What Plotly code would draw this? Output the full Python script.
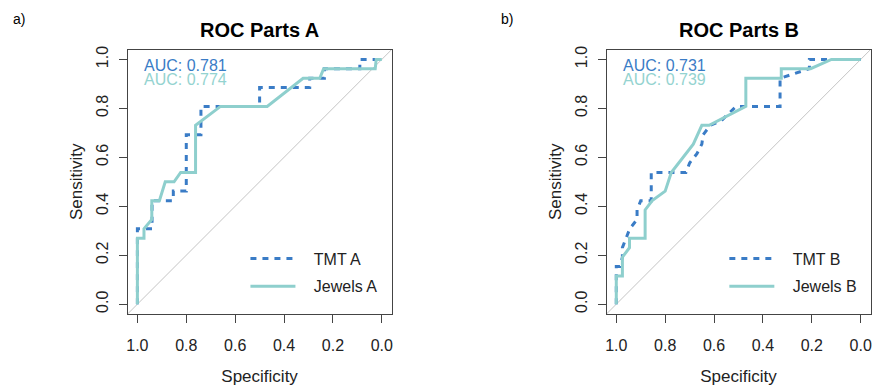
import plotly.graph_objects as go

# ---------------- data ----------------
tmt_a_spec = [1.0, 1.0, 0.94, 0.94, 0.853, 0.853, 0.80, 0.80, 0.74, 0.74, 0.50, 0.50, 0.295, 0.295, 0.235, 0.235, 0.09, 0.09, 0.0]
tmt_a_sens = [0.0, 0.308, 0.308, 0.423, 0.423, 0.462, 0.462, 0.692, 0.692, 0.808, 0.808, 0.885, 0.885, 0.923, 0.923, 0.962, 0.962, 1.0, 1.0]

jew_a_spec = [1.0, 1.0, 0.973, 0.973, 0.941, 0.941, 0.910, 0.886, 0.850, 0.823, 0.762, 0.762, 0.660, 0.469, 0.322, 0.254, 0.238, 0.027, 0.023, 0.0]
jew_a_sens = [0.0, 0.269, 0.269, 0.308, 0.346, 0.423, 0.423, 0.500, 0.500, 0.538, 0.538, 0.731, 0.808, 0.808, 0.923, 0.923, 0.962, 0.962, 1.0, 1.0]

tmt_b_spec = [1.0, 1.0, 0.985, 0.975, 0.975, 0.96, 0.945, 0.915, 0.915, 0.90, 0.857, 0.857, 0.715, 0.70, 0.67, 0.65, 0.645, 0.615, 0.57, 0.51, 0.33, 0.33, 0.27, 0.21, 0.21, 0.0]
tmt_b_sens = [0.0, 0.154, 0.154, 0.192, 0.231, 0.269, 0.308, 0.346, 0.385, 0.423, 0.423, 0.538, 0.538, 0.577, 0.615, 0.654, 0.692, 0.731, 0.75, 0.808, 0.808, 0.923, 0.942, 0.962, 1.0, 1.0]

jew_b_spec = [1.0, 1.0, 0.975, 0.975, 0.946, 0.946, 0.882, 0.882, 0.853, 0.80, 0.775, 0.685, 0.65, 0.62, 0.47, 0.47, 0.325, 0.325, 0.205, 0.12, 0.0]
jew_b_sens = [0.0, 0.115, 0.115, 0.192, 0.231, 0.269, 0.269, 0.385, 0.423, 0.462, 0.538, 0.654, 0.731, 0.731, 0.808, 0.923, 0.923, 0.962, 0.962, 1.0, 1.0]

panel_titles = ["ROC Parts A", "ROC Parts B"]
panel_tags = ["a)", "b)"]
tmt_names = ["TMT A", "TMT B"]
jew_names = ["Jewels A", "Jewels B"]
auc_tmt = ["AUC: 0.781", "AUC: 0.731"]
auc_jew = ["AUC: 0.774", "AUC: 0.739"]
tick_vals = [1.0, 0.8, 0.6, 0.4, 0.2, 0.0]
tick_text = ["1.0", "0.8", "0.6", "0.4", "0.2", "0.0"]

# ---------------- style ----------------
W, H = 874, 389
FONT = "Liberation Sans, Arial, Helvetica, sans-serif"
C_TMT = "#3a7cc6"
C_JEW = "#8ecfcd"
C_AUC_JEW = "#94d3d0"
AX = "#444444"
TXT = "#222222"
LO, HI = -0.04, 1.04

# panel plot boxes in pixels
boxes_x = [(126.9, 391.5), (606.9, 871.5)]
box_y = (46.1, 313.2)

fig = go.Figure()

series = [
    (tmt_a_spec, tmt_a_sens, jew_a_spec, jew_a_sens),
    (tmt_b_spec, tmt_b_sens, jew_b_spec, jew_b_sens),
]

NB = "\u00a0\u00a0\u00a0"
for i, (ts, tn, js, jn) in enumerate(series):
    xa = "x" if i == 0 else "x2"
    ya = "y" if i == 0 else "y2"
    lg = "legend" if i == 0 else "legend2"
    fig.add_trace(go.Scatter(x=ts, y=tn, mode="lines", xaxis=xa, yaxis=ya,
                             name=NB + tmt_names[i], legend=lg, legendgroup="tmt%d" % i,
                             line=dict(color=C_TMT, width=3, dash="6px,6px")))
    fig.add_trace(go.Scatter(x=js, y=jn, mode="lines", xaxis=xa, yaxis=ya,
                             name=NB + jew_names[i], legend=lg, legendgroup="jew%d" % i,
                             line=dict(color=C_JEW, width=3)))
    # reference diagonal across the whole plotting region
    fig.add_shape(type="line", xref=xa, yref=ya, x0=HI, y0=LO, x1=LO, y1=HI,
                  line=dict(color="#c4c4c4", width=1), layer="below")

    fig.add_annotation(xref=xa, yref=ya, x=0.982, y=0.977, text=auc_tmt[i],
                       showarrow=False, xanchor="left", yanchor="middle",
                       font=dict(family=FONT, size=16, color=C_TMT))
    fig.add_annotation(xref=xa, yref=ya, x=0.982, y=0.916, text=auc_jew[i],
                       showarrow=False, xanchor="left", yanchor="middle",
                       font=dict(family=FONT, size=16, color=C_AUC_JEW))

    x0, x1 = boxes_x[i]
    fig.add_annotation(xref="paper", yref="paper", x=(x0 + x1) / 2 / W, y=1 - 26 / H,
                       text="<b>" + panel_titles[i] + "</b>", showarrow=False,
                       xanchor="center", yanchor="middle",
                       font=dict(family=FONT, size=20, color="#000000"))
    tag_x = [10, 499][i]
    fig.add_annotation(xref="paper", yref="paper", x=tag_x / W, y=1 - 15 / H,
                       text=panel_tags[i], showarrow=False, xanchor="left", yanchor="middle",
                       font=dict(family=FONT, size=14, color="#000000"))

axis_common = dict(
    showline=True, mirror=True, linecolor=AX, linewidth=1,
    ticks="outside", ticklen=8, tickcolor=AX, tickwidth=1,
    tickvals=tick_vals, ticktext=tick_text, showgrid=False, zeroline=False,
    tickfont=dict(family=FONT, size=16, color=TXT),
)

yd = [1 - box_y[1] / H, 1 - box_y[0] / H]
layout = dict(
    width=W, height=H, margin=dict(l=0, r=0, t=0, b=0),
    paper_bgcolor="white", plot_bgcolor="white",
    font=dict(family=FONT, size=16, color=TXT),
)
for i in range(2):
    sx = "" if i == 0 else "2"
    x0, x1 = boxes_x[i]
    layout["xaxis" + sx] = dict(axis_common, domain=[x0 / W, x1 / W], range=[HI, LO],
                                anchor="y" + sx, ticklabelstandoff=9,
                                title=dict(text="Specificity", standoff=16,
                                           font=dict(family=FONT, size=17, color=TXT)))
    layout["yaxis" + sx] = dict(axis_common, domain=yd, range=[LO, HI],
                                anchor="x" + sx, tickangle=-90, ticklabelstandoff=4,
                                title=dict(text="Sensitivity", standoff=7,
                                           font=dict(family=FONT, size=17, color=TXT)))

leg_common = dict(bgcolor="rgba(0,0,0,0)", borderwidth=0, itemwidth=45,
                  font=dict(family=FONT, size=16, color=TXT),
                  xanchor="left", yanchor="top", traceorder="grouped", tracegroupgap=4)
layout["legend"] = dict(leg_common, x=245 / W, y=1 - 240 / H)
layout["legend2"] = dict(leg_common, x=725 / W, y=1 - 240 / H)

fig.update_layout(**layout)
fig.write_html("out.html", config={"displayModeBar": False},
               post_script="document.body.style.margin='0';document.body.style.overflow='hidden';")
